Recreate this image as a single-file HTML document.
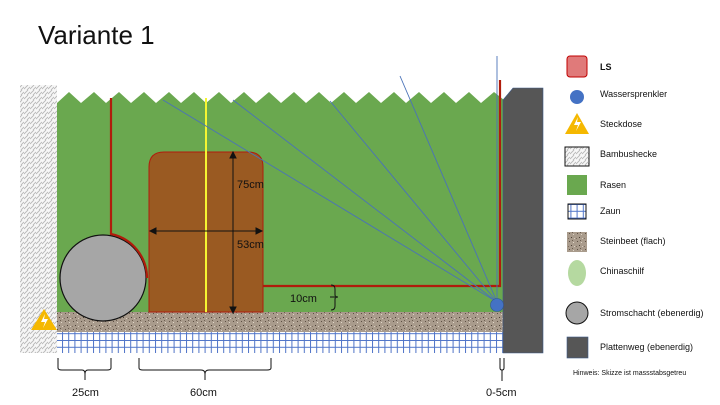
<!DOCTYPE html>
<html><head><meta charset="utf-8"><style>
body{margin:0;background:#fff;width:720px;height:405px;overflow:hidden}
svg{display:block;font-family:"Liberation Sans",sans-serif}
</style></head><body>
<svg width="720" height="405" viewBox="0 0 720 405" xmlns="http://www.w3.org/2000/svg">
<defs>
<pattern id="hedge" width="6" height="5" patternUnits="userSpaceOnUse">
<rect width="6" height="5" fill="#f7f7f7"/>
<path d="M0 4 L4 0 M3 5 L6 2" stroke="#b8b8b8" stroke-width="0.9"/>
</pattern>
<pattern id="grid" width="6.2" height="6.8" patternUnits="userSpaceOnUse">
<rect width="6.2" height="6.8" fill="#fff"/>
<path d="M0.5 0 V6.8 M0 0.5 H6.2" stroke="#4f74c8" stroke-width="1"/>
</pattern>
<pattern id="gravel" width="8" height="8" patternUnits="userSpaceOnUse">
<rect width="8" height="8" fill="#a99b8c"/>
<rect x="1" y="1" width="1" height="1" fill="#5e5044"/><rect x="5" y="2" width="1" height="1" fill="#e0d6c8"/>
<rect x="3" y="5" width="1" height="1" fill="#4a3f36"/><rect x="6" y="6" width="1" height="1" fill="#d8cdbf"/>
<rect x="0" y="6" width="1" height="1" fill="#7d6d5f"/><rect x="4" y="0" width="1" height="1" fill="#6b5d50"/>
</pattern>
</defs>
<text x="38" y="44" font-size="26" fill="#111">Variante 1</text>
<rect x="20" y="85" width="37" height="268" fill="url(#hedge)"/>
<polygon points="57,103 69,92 81,103 94,92 106,103 119,92 131,103 144,92 156,103 169,92 181,103 194,92 206,103 219,92 231,103 244,92 256,103 269,92 281,103 294,92 306,103 319,92 331,103 344,92 356,103 369,92 381,103 394,92 406,103 419,92 431,103 444,92 456,103 469,92 481,103 494,92 504,100 504,312 57,312" fill="#6aa84f"/>
<rect x="57" y="312" width="447" height="20" fill="url(#gravel)"/>
<rect x="57" y="332" width="447" height="21" fill="url(#grid)"/>
<polygon points="503,100 513,88 543,88 543,353 503,353" fill="#565656" stroke="#3d5a8a" stroke-width="0.6"/>
<path d="M263 286 H500 V80" fill="none" stroke="#b01c0c" stroke-width="2.2"/>
<circle cx="103" cy="278" r="43" fill="#a6a6a6" stroke="#111" stroke-width="1.2"/>
<path d="M111 98 V234 A45 45 0 0 1 147 278" fill="none" stroke="#b01c0c" stroke-width="2.2"/>
<path d="M149 312 V167 Q149 152 164 152 H248 Q263 152 263 167 V312 Z" fill="#9a5a22" stroke="#b01c0c" stroke-width="1"/>
<line x1="206" y1="98" x2="206" y2="312" stroke="#f5f532" stroke-width="2"/>
<g stroke="#111" stroke-width="1" fill="#111">
<line x1="233" y1="155" x2="233" y2="310"/><path d="M230 158 L233 152 L236 158Z M230 307 L233 313 L236 307Z"/>
<line x1="153" y1="231" x2="259" y2="231"/><path d="M156 228 L150 231 L156 234Z M256 228 L262 231 L256 234Z"/>
</g>
<text x="237" y="188" font-size="11" fill="#111">75cm</text>
<text x="237" y="248" font-size="11" fill="#111">53cm</text>
<g stroke="#4a72b8" stroke-width="0.9">
<line x1="497" y1="302" x2="163" y2="100"/><line x1="497" y1="302" x2="233" y2="100"/>
<line x1="497" y1="302" x2="330" y2="101"/><line x1="497" y1="302" x2="400" y2="76"/>
<line x1="497" y1="300" x2="497" y2="56"/>
</g>
<circle cx="497" cy="305" r="6.5" fill="#4472c4" stroke="#2f5597" stroke-width="0.6"/>
<polygon points="44,309 57,330 31,330" fill="#f5b800"/>
<path d="M45 314 L41 322 L45 322 L43 328 L48 319 L44 319 Z" fill="#fff"/>
<path d="M331 285 Q335 285 335 289 V295 Q335 297 338 297 Q335 297 335 299 V306 Q335 310 331 310 M335 297 H330" fill="none" stroke="#111" stroke-width="1"/>
<text x="290" y="302" font-size="11" fill="#111">10cm</text>
<g fill="none" stroke="#111" stroke-width="1">
<path d="M58 358 V368 Q58 370 62 370 H82 Q85 370 85 374 Q85 370 88 370 H107 Q111 370 111 368 V358 M85 374 V380"/>
<path d="M139 358 V368 Q139 370 143 370 H201 Q205 370 205 374 Q205 370 209 370 H267 Q271 370 271 368 V358 M205 374 V380"/>
<path d="M500 358 V368 Q500 370 502 370 Q504 370 504 368 V358 M502 370 V381"/>
</g>
<text x="72" y="396" font-size="11" fill="#111">25cm</text>
<text x="190" y="396" font-size="11" fill="#111">60cm</text>
<text x="486" y="396" font-size="11" fill="#111">0-5cm</text>
<!-- legend -->
<rect x="567" y="56" width="20" height="21" rx="3" fill="#e07a7a" stroke="#c00000" stroke-width="1"/>
<text x="600" y="70" font-size="9" font-weight="bold" fill="#111">LS</text>
<circle cx="577" cy="97" r="7" fill="#4472c4"/>
<text x="600" y="97" font-size="9" fill="#111">Wassersprenkler</text>
<polygon points="577,113 589,134 565,134" fill="#f5b800"/>
<path d="M578 117 L574 125 L578 125 L576 131 L581 122 L577 122 Z" fill="#fff"/>
<text x="600" y="127" font-size="9" fill="#111">Steckdose</text>
<rect x="565" y="147" width="24" height="19" fill="url(#hedge)" stroke="#111" stroke-width="1"/>
<text x="600" y="157" font-size="9" fill="#111">Bambushecke</text>
<rect x="567" y="175" width="20" height="20" fill="#6aa84f"/>
<text x="600" y="188" font-size="9" fill="#111">Rasen</text>
<rect x="568" y="204" width="18" height="15" fill="url(#grid)" stroke="#111" stroke-width="1"/>
<text x="600" y="214" font-size="9" fill="#111">Zaun</text>
<rect x="567" y="232" width="20" height="20" fill="url(#gravel)"/>
<text x="600" y="244" font-size="9" fill="#111">Steinbeet (flach)</text>
<ellipse cx="577" cy="273" rx="9" ry="13" fill="#b5d9a0"/>
<text x="600" y="274" font-size="9" fill="#111">Chinaschilf</text>
<circle cx="577" cy="313" r="11" fill="#a6a6a6" stroke="#111" stroke-width="1"/>
<text x="600" y="316" font-size="9" fill="#111">Stromschacht (ebenerdig)</text>
<rect x="567" y="337" width="21" height="21" fill="#565656" stroke="#3d5a8a" stroke-width="0.6"/>
<text x="600" y="350" font-size="9" fill="#111">Plattenweg (ebenerdig)</text>
<text x="573" y="375" font-size="7" fill="#111">Hinweis: Skizze ist massstabsgetreu</text>
</svg>
</body></html>
